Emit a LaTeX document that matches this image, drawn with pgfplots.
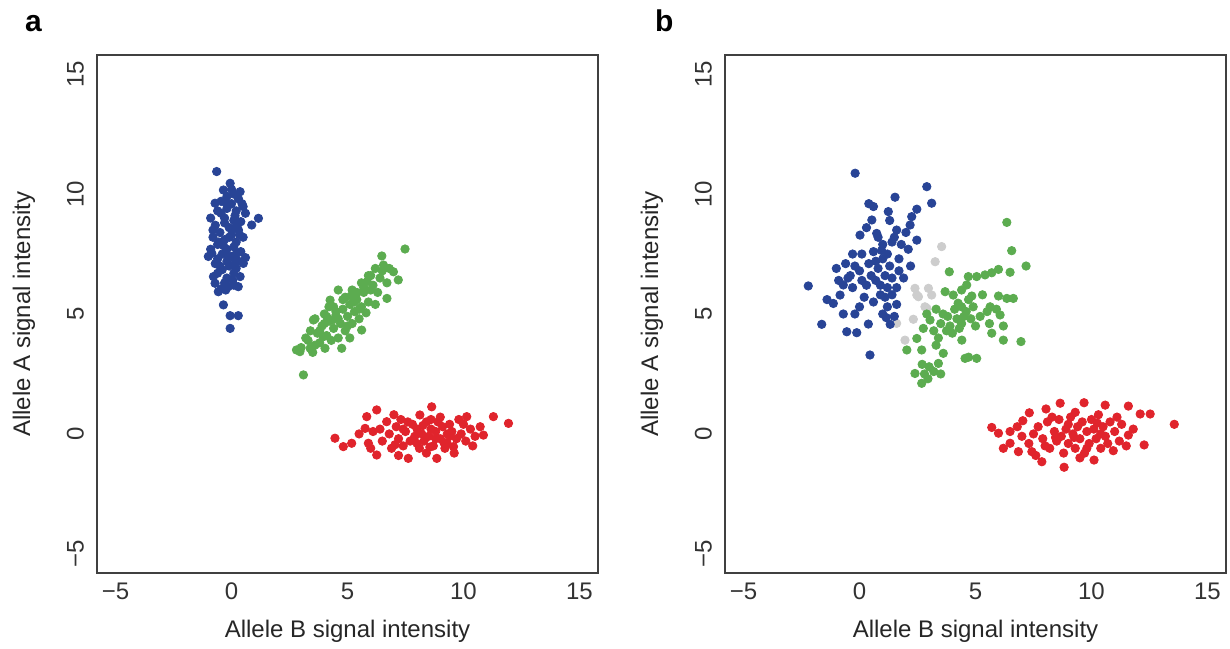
\documentclass[border=0pt]{standalone}
\usepackage{pgfplots}
\pgfplotsset{compat=1.18}
\usepackage{fontspec}
\setmainfont{Liberation Sans}
\definecolor{cblue}{RGB}{40,68,150}
\definecolor{cgreen}{RGB}{92,172,80}
\definecolor{cred}{RGB}{224,36,44}
\definecolor{cgray}{RGB}{205,205,205}
\pgfplotsset{
  panel/.style={
    scale only axis, width=250.5pt, height=259pt,
    xmin=-5.8, xmax=15.8, ymin=-5.8, ymax=15.8,
    xtick={-5,0,5,10,15}, ytick={-5,0,5,10,15},
    xticklabels={−5,0,5,10,15}, yticklabels={−5,0,5,10,15},
    major tick length=0pt,
    axis line style={draw=black!75, line width=0.75pt},
    ticklabel style={font=\fontsize{12}{14}\selectfont, text=black!80},
    xticklabel shift=1.5pt, yticklabel shift=3pt,
    yticklabel style={rotate=90, anchor=south},
    xlabel={Allele B signal intensity}, ylabel={Allele A signal intensity},
    label style={font=\fontsize{12}{14}\selectfont, text=black!85},
    xlabel style={at={(axis description cs:0.5,-0.1236)}, anchor=base},
    ylabel style={at={(axis description cs:-0.1337,0.5)}, anchor=base},
  },
  dots/.style={only marks, mark=*, mark size=2.1pt, color=#1, mark options={draw=none, fill=#1}},
}
\begin{document}
\begin{tikzpicture}
\path[use as bounding box] (0,0) rectangle (615pt,324pt);
\node[anchor=base west, font=\fontsize{15}{17}\selectfont\bfseries] at (9pt,308pt) {a};
\node[anchor=base west, font=\fontsize{15}{17}\selectfont\bfseries] at (324pt,308pt) {b};
\begin{axis}[panel, at={(48.5pt,37.5pt)}, anchor=south west]
\addplot[dots=cblue] coordinates {
(-0.64,10.94) (-0.06,10.45) (-0.35,10.17) (0.37,10.1) (0.1,10.0) (-0.2,9.9) (0.3,9.8) (-0.71,9.62) (-0.45,9.7) (0.0,9.6) (0.5,9.48) (-0.2,9.4) (0.2,9.3) (-0.6,9.3) (0.6,9.2) (1.16,8.99) (-0.9,9.0) (-0.3,9.0) (0.1,8.9) (0.4,8.85) (0.87,8.71) (-0.7,8.7) (-0.1,8.6) (0.3,8.5) (-0.5,8.4) (0.0,8.3) (-0.8,8.2) (0.5,8.2) (-0.3,8.1) (0.2,8.0) (-0.6,7.9) (0.1,7.8) (-0.9,7.7) (-0.2,7.7) (0.4,7.6) (-0.85,7.53) (-0.4,7.5) (0.0,7.4) (0.6,7.35) (-0.6,7.3) (-0.2,7.2) (0.3,7.2) (0.51,7.11) (-0.7,7.1) (-0.1,7.0) (-1.0,7.4) (0.2,6.9) (-0.4,6.85) (0.1,6.7) (-0.6,6.7) (0.37,6.56) (-0.78,6.56) (-0.2,6.5) (0.05,6.4) (-0.71,6.28) (-0.3,6.3) (-0.14,6.14) (0.29,6.14) (-0.57,5.93) (-0.35,5.38) (-0.06,4.93) (0.29,4.93) (-0.06,4.40) (-0.3,8.8) (0.15,9.1) (-0.55,8.0) (0.25,8.7) (-0.15,7.4) (0.35,8.3) (-0.45,9.2) (0.0,10.2) (-0.25,6.0) (0.2,7.5) (-0.8,8.5) (0.45,9.6) (-0.1,8.2) (0.1,6.2) (-0.5,7.0) (-0.35,7.85) (0.05,8.55) (-0.45,6.05) (0.15,7.15) (-0.25,9.65)
};
\addplot[dots=cgreen] coordinates {
(7.48,7.71) (6.48,7.42) (6.55,7.04) (6.98,6.76) (7.19,6.42) (6.2,6.9) (5.9,6.6) (6.4,6.5) (5.6,6.3) (6.1,6.2) (6.7,6.3) (4.6,6.0) (5.2,6.0) (5.7,5.9) (6.3,5.9) (4.25,5.58) (6.7,5.65) (4.9,5.7) (5.4,5.6) (5.9,5.5) (5.1,5.4) (5.6,5.3) (6.2,5.4) (4.4,5.3) (4.8,5.2) (5.3,5.1) (5.8,5.05) (4.0,5.0) (4.5,4.95) (5.0,4.9) (5.5,4.8) (3.6,4.8) (3.53,4.75) (4.2,4.7) (4.7,4.6) (5.2,4.6) (3.9,4.5) (4.4,4.4) (5.61,4.33) (4.9,4.3) (3.4,4.3) (3.7,4.2) (4.1,4.1) (4.6,4.0) (3.3,3.9) (3.8,3.8) (5.1,4.0) (3.0,3.6) (2.95,3.43) (3.39,3.57) (4.03,3.57) (4.75,3.57) (3.1,2.46) (3.6,3.7) (4.3,3.9) (5.4,5.9) (6.0,6.0) (4.0,4.6) (4.8,5.6) (5.3,5.5) (3.2,4.0) (6.5,6.8) (4.5,5.1) (3.8,4.3) (5.7,6.1) (2.8,3.5) (4.2,5.3) (5.0,4.5) (6.0,6.6) (4.6,4.8) (3.5,3.4) (5.5,5.2) (6.8,6.9) (4.1,4.9) (5.15,5.75) (4.35,4.75) (5.85,6.35) (3.95,4.05)
};
\addplot[dots=cred] coordinates {
(4.46,-0.18) (4.82,-0.53) (5.18,-0.39) (5.83,0.72) (6.26,1.0) (5.76,0.23) (5.9,-0.39) (6.1,0.1) (6.69,0.51) (6.26,-0.88) (6.5,-0.3) (6.8,0.0) (6.9,-0.6) (7.1,0.3) (7.2,-0.2) (7.3,0.6) (7.4,-0.5) (7.62,-1.02) (7.5,0.1) (7.7,-0.3) (7.8,0.4) (7.9,-0.1) (8.0,0.2) (8.1,-0.6) (8.12,0.79) (8.2,0.0) (8.3,-0.3) (8.4,0.5) (8.5,-0.1) (8.63,1.13) (8.6,0.2) (8.7,-0.5) (8.85,-1.02) (8.8,0.1) (8.9,0.5) (9.0,-0.2) (9.1,0.3) (9.2,-0.6) (9.3,0.0) (9.4,0.4) (9.57,-0.53) (9.5,0.1) (9.7,-0.2) (9.8,0.6) (9.9,0.0) (10.14,0.72) (10.1,-0.3) (10.3,0.2) (10.5,-0.1) (10.72,0.3) (10.86,-0.05) (11.29,0.72) (11.94,0.44) (6.0,-0.6) (7.0,0.8) (7.6,0.5) (8.4,-0.8) (9.0,0.7) (9.6,-0.8) (10.0,0.4) (6.4,0.2) (7.2,-0.9) (8.0,-0.4) (8.8,-0.2) (9.3,-0.4) (10.4,-0.5) (5.5,0.0) (7.4,0.2) (8.6,0.6) (9.4,-0.1) (7.05,-0.45) (8.25,0.35) (9.15,-0.35) (8.55,-0.55)
};
\end{axis}
\begin{axis}[panel, at={(362.5pt,37.5pt)}, anchor=south west]
\addplot[dots=cgray] coordinates {
(3.54,7.81) (3.26,7.18) (2.39,6.07) (2.47,5.79) (2.97,6.07) (3.11,5.79) (2.82,5.3) (1.6,4.61) (2.32,4.78) (1.96,3.91) (2.54,5.72) (2.9,5.24)
};
\addplot[dots=cblue] coordinates {
(-0.19,10.87) (2.9,10.31) (3.11,9.62) (1.53,9.87) (0.6,9.48) (0.4,9.6) (1.24,9.27) (2.47,9.37) (2.25,9.06) (0.53,8.92) (1.3,8.9) (2.18,8.71) (0.02,8.29) (0.74,8.36) (1.6,8.5) (2.0,8.4) (1.8,7.9) (2.1,7.7) (2.47,8.08) (1.4,8.0) (1.0,7.9) (0.6,7.6) (1.2,7.5) (1.7,7.3) (-2.21,6.17) (-1.63,4.57) (-1.13,5.44) (-0.7,6.21) (-0.84,5.79) (-0.7,5.0) (-0.55,4.26) (-0.12,4.22) (0.45,3.29) (0.38,4.58) (1.32,4.57) (-0.6,7.1) (-0.2,7.0) (0.4,7.1) (-0.4,6.6) (0.1,6.4) (0.3,6.2) (-0.3,6.1) (1.1,6.6) (1.3,7.0) (0.8,6.9) (1.4,6.5) (1.9,6.5) (1.6,6.1) (1.1,5.7) (0.6,5.5) (0.2,5.7) (0.0,5.3) (-0.2,5.0) (1.2,5.3) (1.6,5.4) (1.0,5.0) (1.5,4.9) (0.9,6.2) (0.7,7.2) (1.0,7.3) (-1.0,6.9) (-0.5,6.5) (0.1,7.5) (1.5,8.2) (-0.9,6.4) (0.5,6.6) (2.2,7.0) (0.3,8.6) (-0.3,7.5) (0.8,8.2) (-1.4,5.6) (0.9,5.8) (1.7,6.8) (0.0,6.8) (1.2,6.1) (0.7,6.4) (1.4,5.8) (1.15,4.85) (0.95,7.65)
};
\addplot[dots=cgreen] coordinates {
(6.35,8.82) (6.56,7.64) (7.18,7.0) (3.87,6.76) (4.69,6.56) (5.05,6.56) (5.41,6.63) (5.7,6.72) (5.99,6.86) (6.49,6.74) (6.63,5.65) (6.35,5.65) (5.99,5.75) (5.63,5.3) (5.5,5.1) (3.69,5.93) (4.04,5.79) (4.62,6.21) (4.84,5.75) (4.4,5.3) (4.6,5.1) (4.8,4.8) (5.0,4.5) (3.3,5.2) (2.9,5.0) (3.6,5.0) (4.1,5.2) (4.5,4.9) (3.04,4.75) (3.5,4.6) (3.9,4.5) (4.3,4.4) (5.2,4.9) (2.75,4.4) (3.2,4.3) (6.06,4.96) (6.2,4.5) (5.7,4.2) (6.2,3.91) (6.96,3.85) (2.47,3.98) (2.04,3.5) (2.68,3.5) (3.3,3.7) (3.61,3.36) (4.41,3.91) (4.55,3.15) (4.7,3.2) (5.05,3.15) (3.4,2.94) (3.0,2.8) (2.7,2.9) (2.39,2.52) (2.8,2.5) (3.2,2.6) (3.5,2.5) (2.68,2.11) (4.2,4.8) (4.9,5.3) (3.8,4.9) (4.4,6.0) (5.3,5.8) (4.0,4.2) (4.7,5.6) (5.9,5.2) (3.4,4.0) (4.4,4.6) (5.6,4.6) (4.25,5.45) (3.75,4.3) (2.95,2.3)
};
\addplot[dots=cred] coordinates {
(5.7,0.27) (5.99,0.03) (6.49,-0.39) (6.49,0.1) (6.85,-0.74) (7.04,0.55) (7.32,0.88) (7.0,-0.1) (7.3,-0.4) (7.43,-0.74) (7.86,-1.16) (8.04,1.04) (7.7,0.3) (7.9,-0.2) (8.1,0.5) (8.2,-0.6) (8.4,0.1) (8.5,-0.3) (8.65,1.28) (8.6,0.6) (8.82,-1.39) (8.8,-0.8) (8.9,0.2) (9.0,-0.4) (9.1,0.7) (9.2,0.0) (9.3,-0.6) (9.4,0.3) (9.5,-0.2) (9.68,1.3) (9.6,0.5) (9.7,-0.8) (9.8,0.1) (9.9,-0.4) (10.0,0.6) (10.11,-1.09) (10.1,0.2) (10.2,-0.2) (10.3,0.8) (10.4,-0.6) (10.59,1.2) (10.5,0.3) (10.6,-0.1) (10.8,0.5) (10.94,-0.7) (11.0,0.1) (11.2,-0.3) (11.3,0.4) (11.59,1.16) (11.59,-0.05) (11.8,0.2) (12.1,0.83) (12.53,0.83) (12.27,-0.46) (13.57,0.4) (6.2,-0.6) (6.8,0.3) (7.6,-0.9) (8.3,0.7) (8.7,-0.1) (9.3,0.9) (9.8,-0.6) (10.4,0.0) (11.1,0.7) (7.5,0.0) (8.0,-0.5) (9.0,0.4) (10.7,-0.4) (11.5,-0.5) (9.5,-1.0) (9.25,-0.15) (10.25,0.45) (8.45,-0.15)
};
\end{axis}
\end{tikzpicture}
\end{document}
